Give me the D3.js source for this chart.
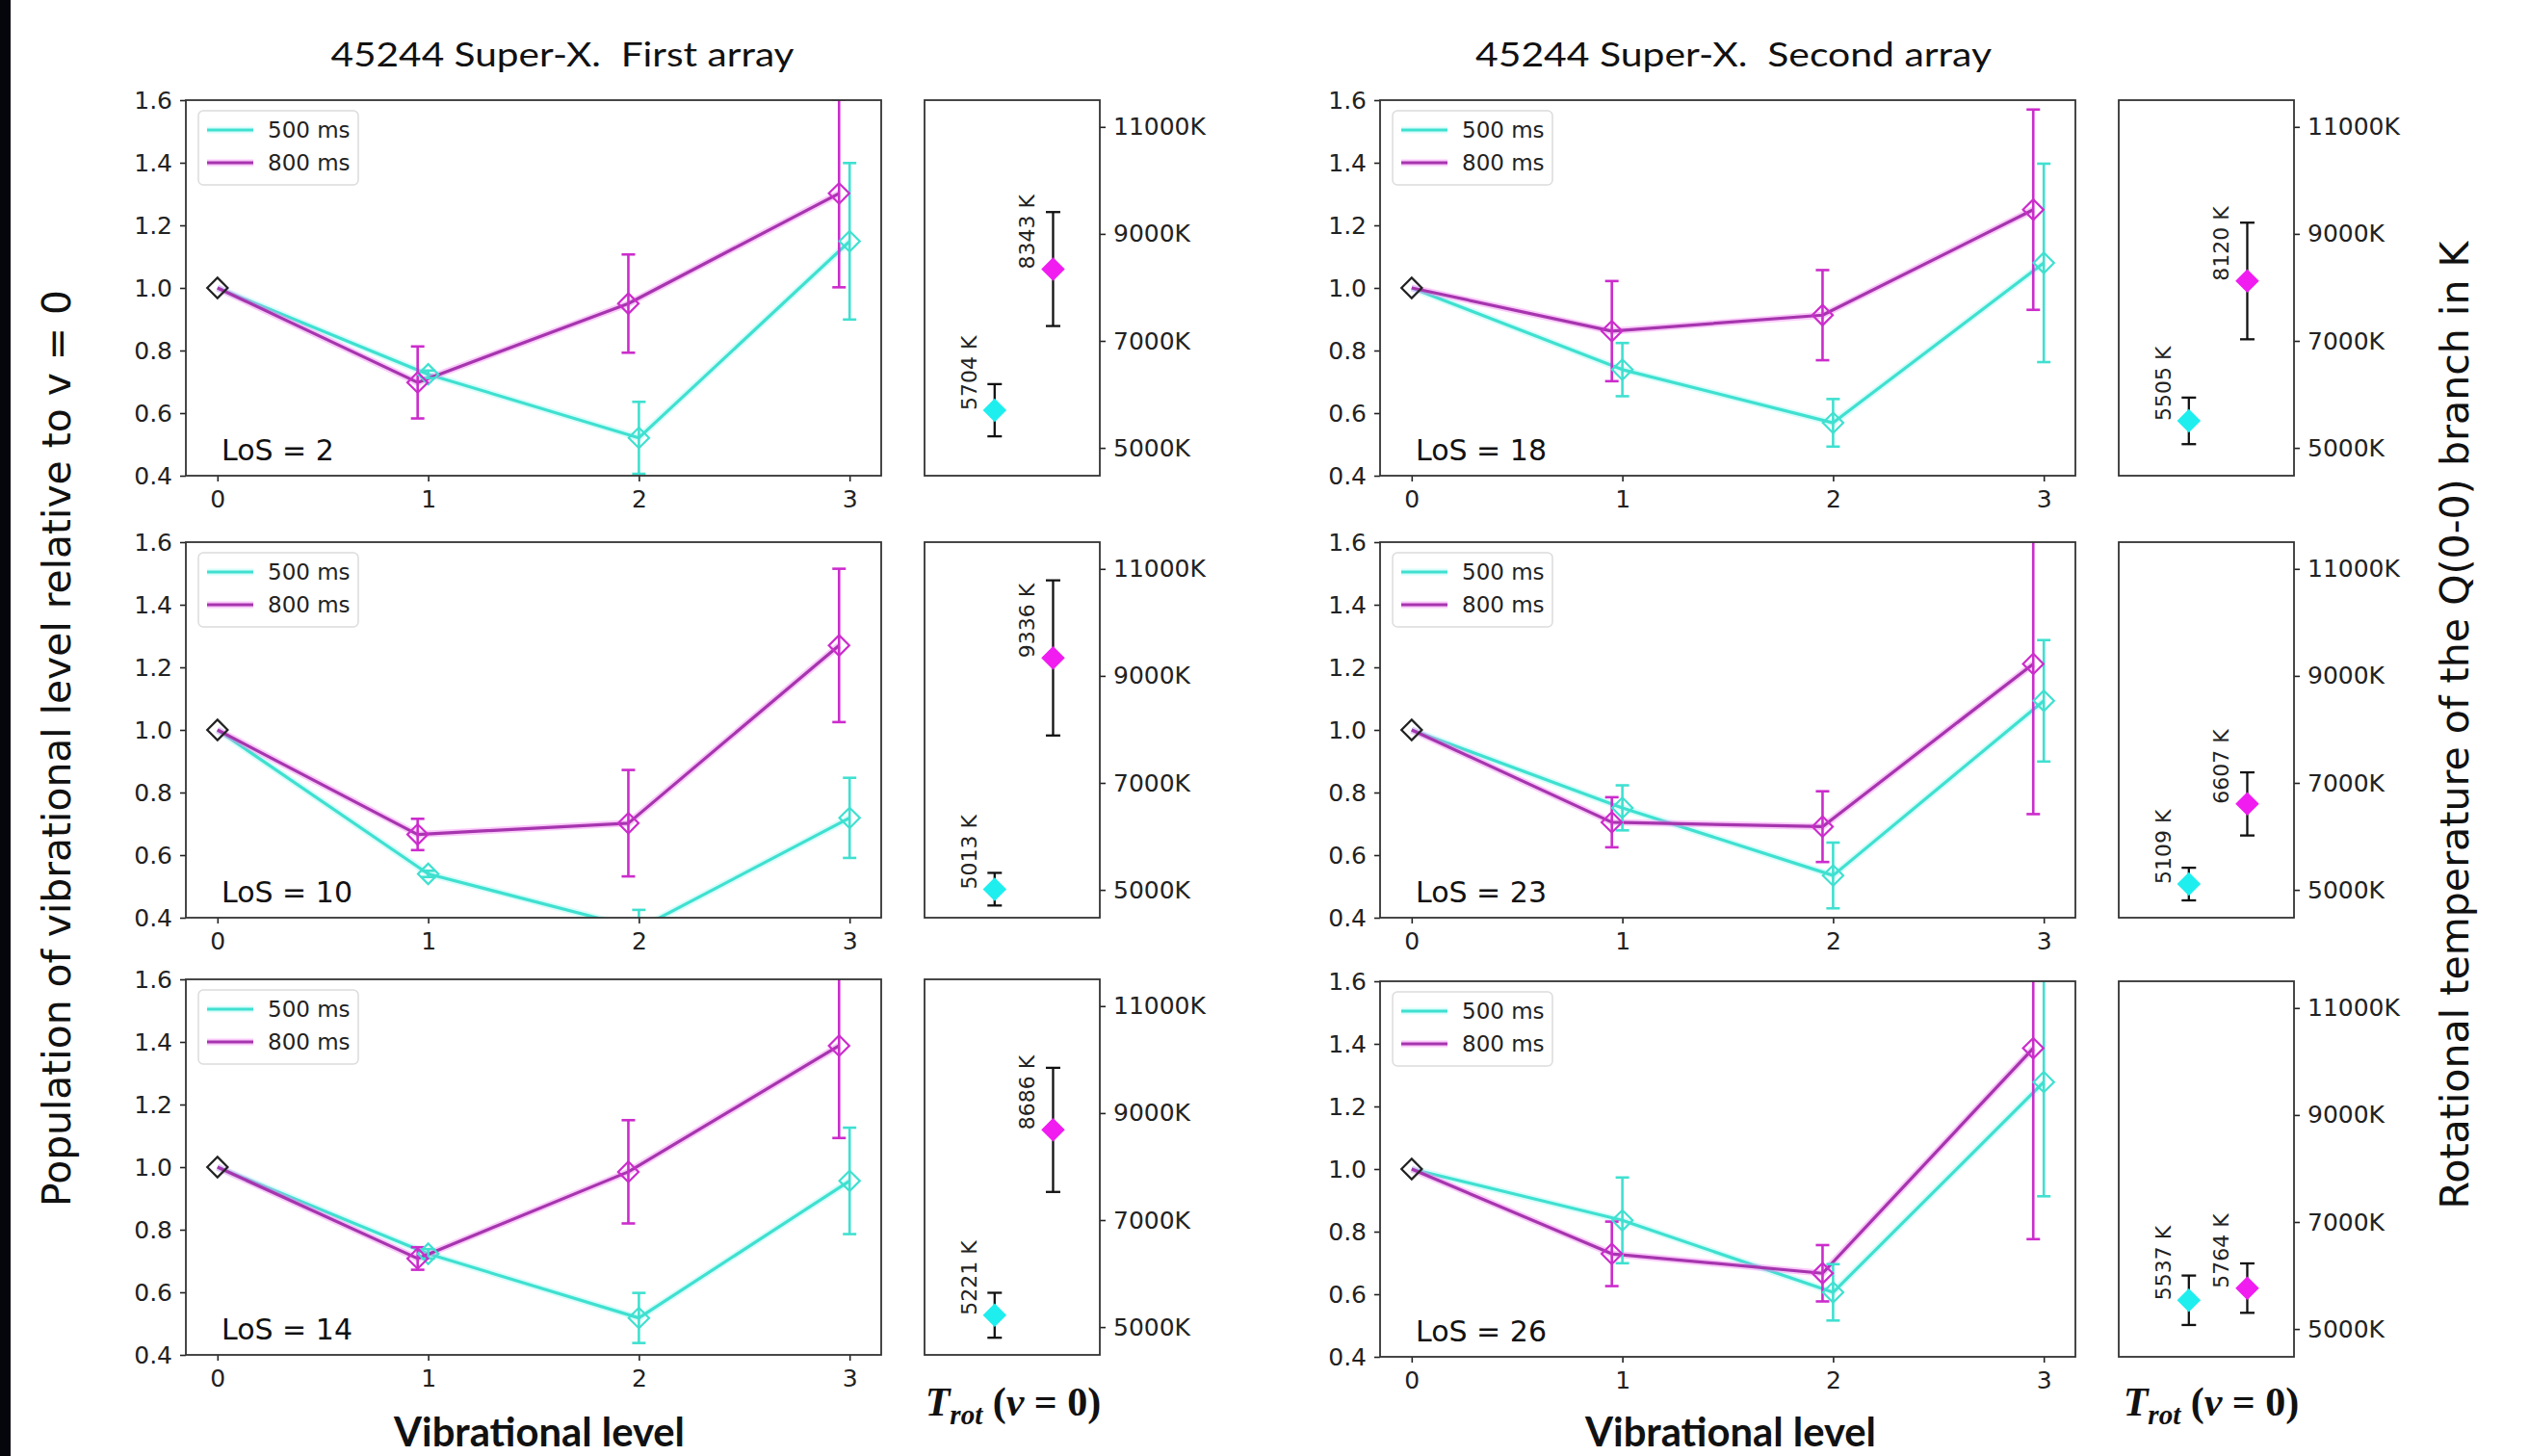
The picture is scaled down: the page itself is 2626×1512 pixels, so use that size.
<!DOCTYPE html>
<html><head><meta charset="utf-8">
<script src="https://cdn.jsdelivr.net/npm/d3@7"></script>
<style>body{margin:0;background:#fff}svg{display:block}</style>
</head><body>
<script>
// ---------------- data ----------------
const levels = [0, 1, 2, 3];
const losLabels = ["LoS = 2", "LoS = 18", "LoS = 10", "LoS = 23", "LoS = 14", "LoS = 26"];
const seriesNames = ["500 ms", "800 ms"];
const columnTitles = ["45244 Super-X.  First array", "45244 Super-X.  Second array"];

const pop500 = [
  [1, 0.724, 0.521, 1.149],
  [1, 0.739, 0.569, 1.080],
  [1, 0.540, 0.365, 0.719],
  [1, 0.751, 0.535, 1.093],
  [1, 0.723, 0.518, 0.956],
  [1, 0.836, 0.606, 1.278]
];
const err500 = [
  [0, 0.012, 0.115, 0.250],
  [0, 0.085, 0.076, 0.317],
  [0, 0.010, 0.060, 0.128],
  [0, 0.072, 0.105, 0.194],
  [0, 0.015, 0.080, 0.170],
  [0, 0.137, 0.090, 0.365]
];
const pop800 = [
  [1, 0.698, 0.950, 1.302],
  [1, 0.862, 0.913, 1.250],
  [1, 0.666, 0.702, 1.270],
  [1, 0.705, 0.691, 1.211],
  [1, 0.708, 0.985, 1.388],
  [1, 0.729, 0.667, 1.386]
];
const err800 = [
  [0, 0.115, 0.157, 0.300],
  [0, 0.160, 0.144, 0.320],
  [0, 0.050, 0.170, 0.245],
  [0, 0.080, 0.113, 0.480],
  [0, 0.036, 0.165, 0.295],
  [0, 0.103, 0.090, 0.610]
];
const shift800 = [0, -0.05, -0.05, -0.05];

const trot500 = [5704, 5505, 5013, 5109, 5221, 5537];
const trot500Err = [488, 435, 305, 305, 420, 462];
const trot800 = [8343, 8120, 9336, 6607, 8686, 5764];
const trot800Err = [1065, 1090, 1450, 590, 1160, 462];

const yTicks = [0.4, 0.6, 0.8, 1.0, 1.2, 1.4, 1.6];
const xTicks = [0, 1, 2, 3];
const tempTicks = [5000, 7000, 9000, 11000];

// ---------------- layout ----------------
const W = 2626, H = 1512;
const colX = [193, 1433];
const rowTop = [104, 563, 1017];
const plotW = 722, plotH = 390;
const tempGap = 767, tempW = 182;
const SANS = "'DejaVu Sans', sans-serif";

const svg = d3.select("body").append("svg").attr("width", W).attr("height", H)
  .style("background", "#fff");

svg.append("rect").attr("x", 0).attr("y", 0).attr("width", 11).attr("height", H).attr("fill", "#05060c");

const defs = svg.append("defs");

const col500 = {line: "#40E0D0", halo: "#a8fbf3", err: "#40E0D0", mark: "#40E0D0"};
const col800 = {line: "#a635ae", halo: "#f48af4", err: "#cc2ccc", mark: "#cc2ccc"};

function styleAxis(g, fs) {
  g.select(".domain").remove();
  g.selectAll(".tick line").attr("stroke", "#222").attr("stroke-width", 1.6);
  g.selectAll(".tick text").attr("fill", "#222").style("font-family", SANS).style("font-size", fs + "px");
}

for (let i = 0; i < 6; i++) {
  const col = i % 2, row = Math.floor(i / 2);
  const x0 = colX[col], y0 = rowTop[row] + (col === 1 && row === 2 ? 2 : 0);
  const g = svg.append("g").attr("transform", `translate(${x0},${y0})`);
  const x = d3.scaleLinear().domain([-0.15, 3.15]).range([0, plotW]);
  const y = d3.scaleLinear().domain([0.4, 1.6]).range([plotH, 0]);

  const cid = "clip" + i;
  defs.append("clipPath").attr("id", cid).append("rect")
    .attr("x", 0).attr("y", 0).attr("width", plotW).attr("height", plotH);

  g.append("rect").attr("width", plotW).attr("height", plotH).attr("fill", "#fff");

  const ax = g.append("g").attr("transform", `translate(0,${plotH})`)
    .call(d3.axisBottom(x).tickValues(xTicks).tickFormat(d3.format("d")).tickSize(6).tickPadding(9));
  styleAxis(ax, 25);
  const ay = g.append("g")
    .call(d3.axisLeft(y).tickValues(yTicks).tickFormat(d3.format(".1f")).tickSize(6).tickPadding(8));
  styleAxis(ay, 25);

  const pg = g.append("g").attr("clip-path", `url(#${cid})`);
  const series = [
    {vals: pop500[i], errs: err500[i], shift: [0, 0, 0, 0], c: col500},
    {vals: pop800[i], errs: err800[i], shift: shift800, c: col800}
  ];
  const line = d3.line();
  series.forEach(s => {
    const pts = levels.map((v, k) => [x(v + s.shift[k]), y(s.vals[k])]);
    pg.append("path").attr("d", line(pts)).attr("fill", "none")
      .attr("stroke", s.c.halo).attr("stroke-width", 7).attr("stroke-opacity", 0.45);
    pg.append("path").attr("d", line(pts)).attr("fill", "none")
      .attr("stroke", s.c.line).attr("stroke-width", 3.2).attr("stroke-linejoin", "round");
  });
  series.forEach(s => {
    levels.forEach((v, k) => {
      if (s.errs[k] <= 0) return;
      const cx = x(v + s.shift[k]);
      const yt = y(s.vals[k] + s.errs[k]), yb = y(s.vals[k] - s.errs[k]);
      pg.append("line").attr("x1", cx).attr("x2", cx).attr("y1", yt).attr("y2", yb)
        .attr("stroke", s.c.err).attr("stroke-width", 2.6);
      [yt, yb].forEach(yy => pg.append("line").attr("x1", cx - 7).attr("x2", cx + 7)
        .attr("y1", yy).attr("y2", yy).attr("stroke", s.c.err).attr("stroke-width", 2.6));
    });
  });
  const diamond = d3.symbol().type(d3.symbolSquare).size(225);
  series.forEach(s => {
    levels.forEach((v, k) => {
      if (k === 0) return;
      pg.append("path").attr("d", diamond())
        .attr("transform", `translate(${x(v + s.shift[k])},${y(s.vals[k])}) rotate(45)`)
        .attr("fill", "none").attr("stroke", s.c.mark).attr("stroke-width", 2.2);
    });
  });
  pg.append("path").attr("d", diamond())
    .attr("transform", `translate(${x(levels[0])},${y(pop500[i][0])}) rotate(45)`)
    .attr("fill", "none").attr("stroke", "#222").attr("stroke-width", 2.2);

  g.append("rect").attr("width", plotW).attr("height", plotH)
    .attr("fill", "none").attr("stroke", "#333").attr("stroke-width", 1.8);

  // legend
  const lg = g.append("g").attr("transform", "translate(13,11)");
  lg.append("rect").attr("width", 166).attr("height", 77).attr("rx", 5)
    .attr("fill", "#fff").attr("fill-opacity", 0.85).attr("stroke", "#dcdcdc").attr("stroke-width", 1.5);
  [col500, col800].forEach((c, k) => {
    const ly = 20 + k * 34;
    lg.append("line").attr("x1", 9).attr("x2", 57).attr("y1", ly).attr("y2", ly)
      .attr("stroke", c.halo).attr("stroke-width", 7).attr("stroke-opacity", 0.45);
    lg.append("line").attr("x1", 9).attr("x2", 57).attr("y1", ly).attr("y2", ly)
      .attr("stroke", c.line).attr("stroke-width", 3.2);
    lg.append("text").attr("x", 72).attr("y", ly).attr("dy", "0.36em")
      .style("font-family", SANS).style("font-size", "23px").attr("fill", "#222")
      .text(seriesNames[k]);
  });

  g.append("text").attr("x", 37).attr("y", plotH - 16)
    .style("font-family", SANS).style("font-size", "30px").attr("fill", "#111")
    .text(losLabels[i]);

  // temperature panel
  const tg = svg.append("g").attr("transform", `translate(${x0 + tempGap},${y0})`);
  const tx = d3.scaleLinear().domain([-1.2, 1.8]).range([0, tempW]);
  const ty = d3.scaleLinear().domain([4480, 11500]).range([plotH, 0]);
  tg.append("rect").attr("width", tempW).attr("height", plotH).attr("fill", "#fff");
  const at = tg.append("g").attr("transform", `translate(${tempW},0)`)
    .call(d3.axisRight(ty).tickValues(tempTicks).tickFormat(d => d + "K").tickSize(6).tickPadding(8));
  styleAxis(at, 25);
  const temps = [
    {T: trot500[i], e: trot500Err[i], fill: "#1eeeee", k: 0},
    {T: trot800[i], e: trot800Err[i], fill: "#f01cf0", k: 1}
  ];
  const fd = d3.symbol().type(d3.symbolSquare).size(300);
  temps.forEach(t => {
    const cx = tx(t.k), yt = ty(t.T + t.e), yb = ty(t.T - t.e);
    tg.append("line").attr("x1", cx).attr("x2", cx).attr("y1", yt).attr("y2", yb)
      .attr("stroke", "#111").attr("stroke-width", 2.3);
    [yt, yb].forEach(yy => tg.append("line").attr("x1", cx - 7.5).attr("x2", cx + 7.5)
      .attr("y1", yy).attr("y2", yy).attr("stroke", "#111").attr("stroke-width", 2.3));
    tg.append("path").attr("d", fd()).attr("transform", `translate(${cx},${ty(t.T)}) rotate(45)`)
      .attr("fill", t.fill);
    tg.append("text").attr("transform", `translate(${cx - 19},${ty(t.T)}) rotate(-90)`)
      .style("font-family", SANS).style("font-size", "22px").attr("fill", "#222")
      .text(t.T + " K");
  });
  tg.append("rect").attr("width", tempW).attr("height", plotH)
    .attr("fill", "none").attr("stroke", "#333").attr("stroke-width", 1.8);
}

// titles
const titleX = [584, 1800], titleLen = [481, 536];
columnTitles.forEach((t, k) => {
  svg.append("text").attr("x", titleX[k]).attr("y", 69).attr("text-anchor", "middle")
    .style("font-family", "Lato, 'Open Sans', sans-serif").style("font-size", "35px")
    .style("white-space", "pre").attr("fill", "#111")
    .attr("textLength", titleLen[k]).attr("lengthAdjust", "spacingAndGlyphs").text(t);
});

// x labels
[560, 1797].forEach(cx => {
  svg.append("text").attr("x", cx).attr("y", 1502).attr("text-anchor", "middle")
    .style("font-family", "Lato, 'Open Sans', sans-serif").style("font-size", "42px")
    .style("font-weight", "bold").attr("fill", "#111")
    .attr("textLength", 302).attr("lengthAdjust", "spacingAndGlyphs").text("Vibrational level");
});

// T_rot labels
[1052, 2296].forEach(cx => {
  const t = svg.append("text").attr("x", cx).attr("y", 1470).attr("text-anchor", "middle")
    .style("font-family", "'Liberation Serif', 'DejaVu Serif', serif").style("font-size", "42px")
    .style("font-weight", "bold").attr("fill", "#111");
  t.append("tspan").style("font-style", "italic").text("T");
  t.append("tspan").style("font-style", "italic").style("font-size", "29px").attr("dy", 9).text("rot");
  t.append("tspan").attr("dy", -9).text(" (");
  t.append("tspan").style("font-style", "italic").text("ν");
  t.append("tspan").text(" = 0)");
});

// axis titles
svg.append("text").attr("transform", "translate(73,777) rotate(-90)").attr("text-anchor", "middle")
  .style("font-family", SANS).style("font-size", "40px").attr("fill", "#111")
  .attr("textLength", 952).attr("lengthAdjust", "spacingAndGlyphs")
  .text("Population of vibrational level relative to v = 0");
svg.append("text").attr("transform", "translate(2563,753) rotate(-90)").attr("text-anchor", "middle")
  .style("font-family", SANS).style("font-size", "41px").attr("fill", "#111")
  .attr("textLength", 1005).attr("lengthAdjust", "spacingAndGlyphs")
  .text("Rotational temperature of the Q(0-0) branch in K");
</script>
</body></html>
